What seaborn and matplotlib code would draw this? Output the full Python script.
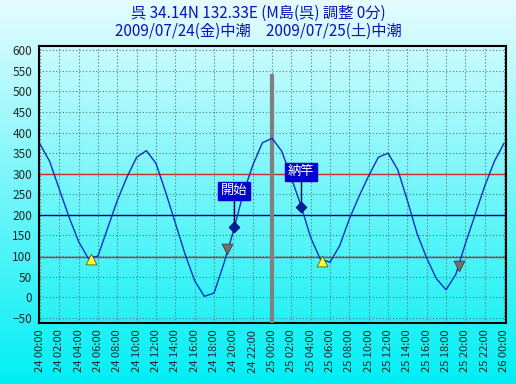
import numpy as np
import pandas as pd
import matplotlib
matplotlib.use("Agg")
import matplotlib.pyplot as plt
import seaborn as sns

# tide level (cm), one value per hour from 24 00:00 to 26 00:00
hours = list(range(49))
level = [372, 330, 262, 195, 135, 94, 100, 168, 235, 292,
         340, 356, 325, 255, 180, 105, 40, 2, 10, 80,
         160, 250, 320, 375, 386, 355, 290, 222, 145, 92,
         85, 125, 190, 245, 295, 340, 350, 310, 235, 155,
         95, 45, 18, 55, 130, 200, 270, 330, 374]

low_t = [5.3, 29.2]
low_v = [93, 87]
mark_t = [19.3, 43.3]
mark_v = [117, 75]
event_t = [20.1, 27.0]
event_v = [170, 219]
event_label = ["開始", "納竿"]
event_box_v = [243, 289]

tick_hours = list(range(0, 49, 2))
tick_labels = ["24 00:00", "24 02:00", "24 04:00", "24 06:00", "24 08:00",
               "24 10:00", "24 12:00", "24 14:00", "24 16:00", "24 18:00",
               "24 20:00", "24 22:00", "25 00:00", "25 02:00", "25 04:00",
               "25 06:00", "25 08:00", "25 10:00", "25 12:00", "25 14:00",
               "25 16:00", "25 18:00", "25 20:00", "25 22:00", "26 00:00"]
red_levels = [300, 97]
blue_level = 200

sns.set_style("white")
plt.rcParams['font.family'] = ['Noto Sans CJK JP', 'DejaVu Sans']

fig = plt.figure(figsize=(5.16, 3.84), dpi=100)

# background gradient over the whole figure
bg = fig.add_axes([0, 0, 1, 1], zorder=-10)
grad = np.linspace(0, 1, 256).reshape(-1, 1)
top = np.array([0.90, 0.99, 1.0])
bot = np.array([0.0, 0.94, 0.96])
img = top * (1 - grad[..., None]) + bot * grad[..., None]
bg.imshow(img, aspect='auto', extent=[0, 1, 0, 1])
bg.axis('off')

ax = fig.add_axes([0.0756, 0.1596, 0.905, 0.7204])
ax.set_facecolor('none')

df = pd.DataFrame({"hour": hours, "level": level})

ax.set_xlim(-0.1, 48.2)
ax.set_ylim(-62, 610)
ax.set_yticks(range(-50, 601, 50))
ax.set_xticks(tick_hours)
ax.set_xticklabels(tick_labels, rotation=90, fontsize=8)
ax.tick_params(axis='y', labelsize=8.5, length=3, pad=2)
ax.tick_params(axis='x', length=2, pad=3)
ax.set_xticks(hours, minor=True)
ax.tick_params(axis='x', which='minor', length=2, direction='in')
ax.grid(True, linestyle=(0, (1, 2)), color='#507878', linewidth=0.8)

for v in red_levels:
    ax.axhline(v, color='#c83030', linewidth=1, zorder=2)
ax.axhline(blue_level, color='#000080', linewidth=1, zorder=2)
ax.vlines(24, -62, 543, color='#808080', linewidth=3, zorder=3)

sns.lineplot(data=df, x="hour", y="level", color='#1030c0', linewidth=1,
             ax=ax, zorder=4)

sns.scatterplot(x=low_t, y=low_v, marker='^', s=60, color='#ffff30',
                edgecolor='#606000', linewidth=0.6, ax=ax, zorder=6)
sns.scatterplot(x=mark_t, y=mark_v, marker='v', s=60, color='#707070',
                edgecolor='#404040', linewidth=0.6, ax=ax, zorder=6)

for t, v, lab, bv in zip(event_t, event_v, event_label, event_box_v):
    ax.plot([t, t], [v, bv], color='#000040', linewidth=1, zorder=5)
    ax.text(t, bv, lab, color='white', fontsize=9.5, ha='center', va='bottom',
            zorder=7,
            bbox=dict(boxstyle='square,pad=0.2', facecolor='#0000d0',
                      edgecolor='#0000d0'))
sns.scatterplot(x=event_t, y=event_v, marker='D', s=30, color='#0020a0',
                edgecolor='#000060', linewidth=0.6, ax=ax, zorder=6)

ax.set_xlabel("")
ax.set_ylabel("")
for s in ax.spines.values():
    s.set_color('black')
    s.set_linewidth(1.5)
    s.set_visible(True)

fig.text(0.5, 0.964, "呉 34.14N 132.33E (M島(呉) 調整 0分)", ha='center',
         va='center', fontsize=11, color='#1010c0')
fig.text(0.5, 0.919, "2009/07/24(金)中潮　2009/07/25(土)中潮", ha='center',
         va='center', fontsize=11, color='#1010c0')

fig.savefig("out.png", dpi=100)
